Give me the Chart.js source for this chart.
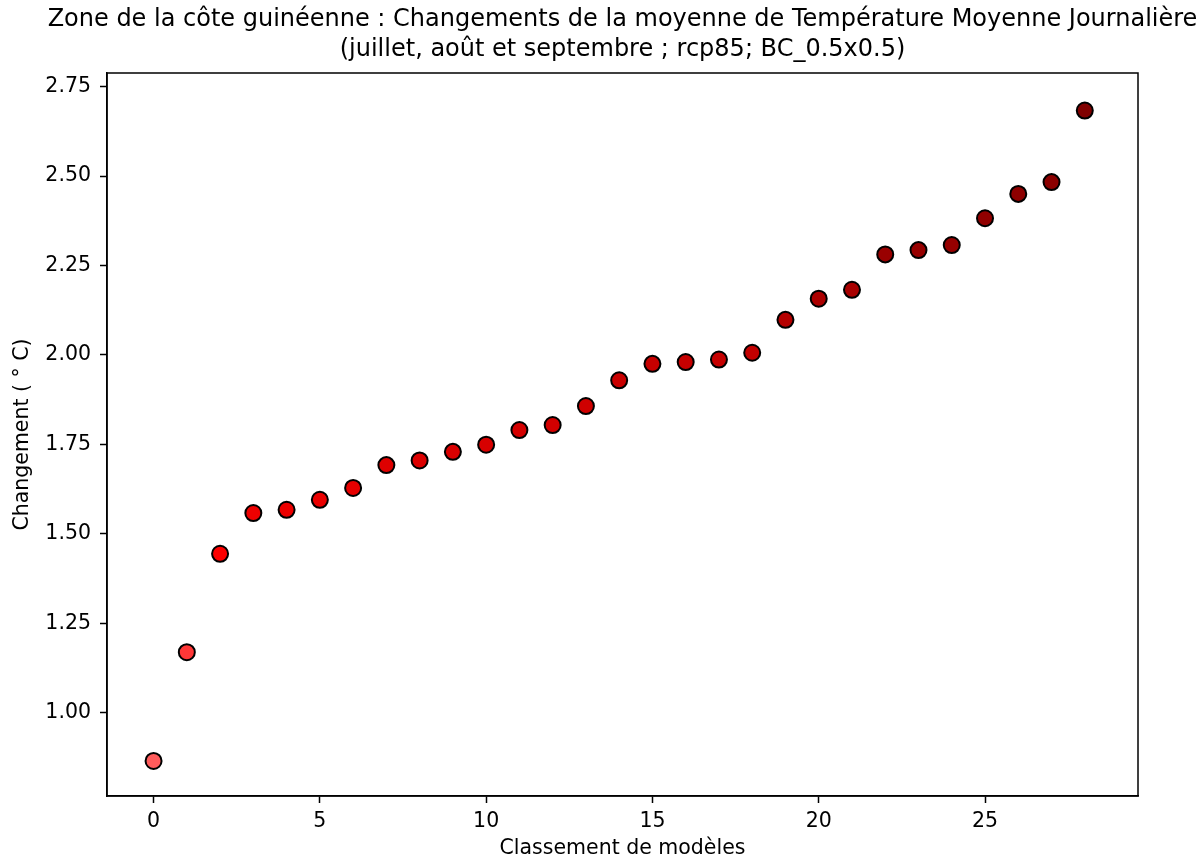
<!DOCTYPE html>
<html>
<head>
<meta charset="utf-8">
<script src="https://cdn.jsdelivr.net/npm/chart.js@4"></script>
<style>
  html, body { margin: 0; padding: 0; background: #fff; overflow: hidden; }
  #wrap { width: 1200px; height: 861px; overflow: hidden; }
  #box { width: 1245px; height: 861px; }
</style>
</head>
<body>
<div id="wrap"><div id="box"><canvas id="chart"></canvas></div></div>
<script>
// Classement de modèles (rang) et changement de température (°C)
const rangs = [0, 1, 2, 3, 4, 5, 6, 7, 8, 9, 10, 11, 12, 13, 14, 15, 16, 17, 18, 19, 20, 21, 22, 23, 24, 25, 26, 27, 28];
const changements = [0.865, 1.169, 1.444, 1.558, 1.567, 1.595, 1.628, 1.692, 1.705, 1.729,
                     1.749, 1.790, 1.804, 1.857, 1.929, 1.975, 1.980, 1.987, 2.006, 2.098,
                     2.157, 2.182, 2.281, 2.293, 2.307, 2.382, 2.450, 2.483, 2.683];
const xTicks = [0, 5, 10, 15, 20, 25];
const yTicks = [1.00, 1.25, 1.50, 1.75, 2.00, 2.25, 2.50, 2.75];

const titre = ['Zone de la côte guinéenne : Changements de la moyenne de Température Moyenne Journalière',
               '(juillet, août et septembre ; rcp85; BC_0.5x0.5)'];

// Palette : rouge clair -> rouge -> rouge foncé selon la valeur
const stops = [
  [0.865, [255, 92, 92]],
  [1.169, [255, 55, 55]],
  [1.444, [252, 0, 0]],
  [1.75, [215, 0, 0]],
  [2.0, [196, 0, 0]],
  [2.3, [150, 0, 0]],
  [2.683, [128, 0, 0]]
];
function couleur(v) {
  for (let i = 1; i < stops.length; i++) {
    if (v <= stops[i][0]) {
      const [v0, c0] = stops[i - 1], [v1, c1] = stops[i];
      const t = (v - v0) / (v1 - v0);
      const c = c0.map((a, k) => Math.round(a + (c1[k] - a) * t));
      return `rgb(${c[0]},${c[1]},${c[2]})`;
    }
  }
  return 'rgb(128,0,0)';
}

// Cadre complet autour de la zone de tracé
const cadre = {
  id: 'cadre',
  afterDatasetsDraw(chart) {
    const {ctx, chartArea: a} = chart;
    ctx.save();
    ctx.strokeStyle = '#000';
    ctx.lineWidth = 1.5;
    ctx.strokeRect(a.left, a.top, a.right - a.left, a.bottom - a.top);
    ctx.restore();
  }
};

const police = "'DejaVu Sans', sans-serif";

new Chart(document.getElementById('chart'), {
  type: 'scatter',
  data: {
    datasets: [{
      data: rangs.map((r, i) => ({x: r, y: changements[i]})),
      backgroundColor: ctx => couleur(changements[ctx.dataIndex]),
      borderColor: '#000',
      borderWidth: 2,
      pointRadius: 8,
      pointHoverRadius: 8
    }]
  },
  options: {
    responsive: true,
    maintainAspectRatio: false,
    animation: false,
    layout: { padding: 0 },
    plugins: {
      legend: { display: false },
      tooltip: { enabled: false },
      title: {
        display: true,
        text: titre,
        color: '#000',
        font: { family: police, size: 24, weight: 'normal', lineHeight: 1.25 },
        padding: { top: 5, bottom: 8 }
      }
    },
    scales: {
      x: {
        type: 'linear',
        min: -1.4,
        max: 29.6,
        afterBuildTicks: s => { s.ticks = xTicks.map(v => ({value: v})); },
        afterFit: s => { s.height = 65; },
        grid: { drawOnChartArea: false, drawTicks: true, tickLength: 7, tickWidth: 1.5, tickColor: '#000' },
        border: { display: true, color: '#000', width: 1.5 },
        ticks: { color: '#000', padding: 6, font: { family: police, size: 20.5 } },
        title: {
          display: true,
          text: 'Classement de modèles',
          color: '#000',
          font: { family: police, size: 20.5, lineHeight: 1.2 },
          padding: { top: 0, bottom: 0 }
        }
      },
      y: {
        type: 'linear',
        min: 0.767,
        max: 2.788,
        afterBuildTicks: s => { s.ticks = yTicks.map(v => ({value: v})); },
        afterFit: s => { s.width = 107; },
        grid: { drawOnChartArea: false, drawTicks: true, tickLength: 7, tickWidth: 1.5, tickColor: '#000' },
        border: { display: true, color: '#000', width: 1.5 },
        ticks: { color: '#000', padding: 9, font: { family: police, size: 20.5 }, callback: v => v.toFixed(2) },
        title: {
          display: true,
          text: 'Changement ( ° C)',
          color: '#000',
          font: { family: police, size: 20.5, lineHeight: 1.2 },
          padding: { top: 10, bottom: 0 }
        }
      },
      // axe vide à droite : garde la marge et centre le titre sur la zone de tracé
      yDroite: {
        type: 'linear',
        position: 'right',
        display: true,
        afterFit: s => { s.width = 107; },
        grid: { display: false, drawTicks: false },
        border: { display: false },
        ticks: { display: false }
      }
    }
  },
  plugins: [cadre]
});
</script>
</body>
</html>
